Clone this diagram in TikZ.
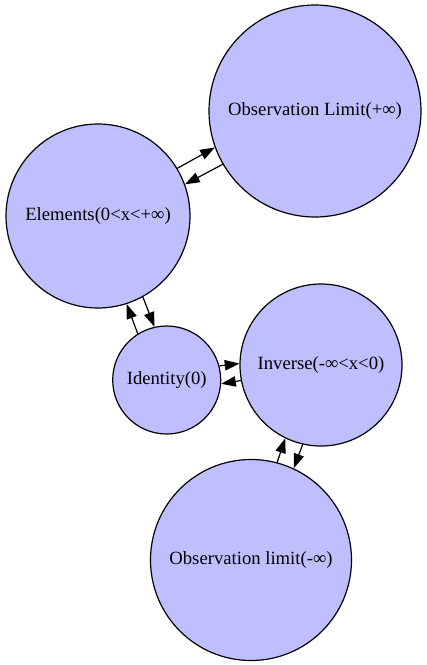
\documentclass[tikz,border=0pt]{standalone}
\usepackage{fontspec}
\setmainfont{Liberation Serif}
\usetikzlibrary{arrows.meta}
\definecolor{nodeblue}{RGB}{191,191,255}
\tikzset{
  state/.style={circle,draw=black,fill=nodeblue,line width=0.9pt,inner sep=0pt,
    font=\fontsize{14pt}{16pt}\selectfont},
  link/.style={line width=0.9pt,-{Triangle[length=11pt,width=7.8pt]}}
}
\begin{document}
\begin{tikzpicture}[x=0.75pt,y=-0.75pt]
\useasboundingbox (0,0) rectangle (427,665);
\node[state,minimum size=159pt] (obsplus) at (315,111) {Observation Limit(+∞)};
\node[state,minimum size=138pt] (elements) at (98,216) {Elements(0<x<+∞)};
\node[state,minimum size=81pt] (identity) at (166.7,380) {Identity(0)};
\node[state,minimum size=121.5pt] (inverse) at (321,365) {Inverse(-∞<x<0)};
\node[state,minimum size=150.75pt] (obsminus) at (251,560) {Observation limit(-∞)};
\draw[link] (elements.31.4) -- (obsplus.200.95);
\draw[link] (obsplus.210.69) -- (elements.20.21);
\draw[link] (elements.-61.66) -- (identity.103.14);
\draw[link] (identity.122.32) -- (elements.-72.88);
\draw[link] (identity.15.14) -- (inverse.179.17);
\draw[link] (inverse.191.93) -- (identity.-4.04);
\draw[link] (inverse.-103.37) -- (obsminus.65.11);
\draw[link] (obsminus.75.39) -- (inverse.-116.13);
\end{tikzpicture}
\end{document}
